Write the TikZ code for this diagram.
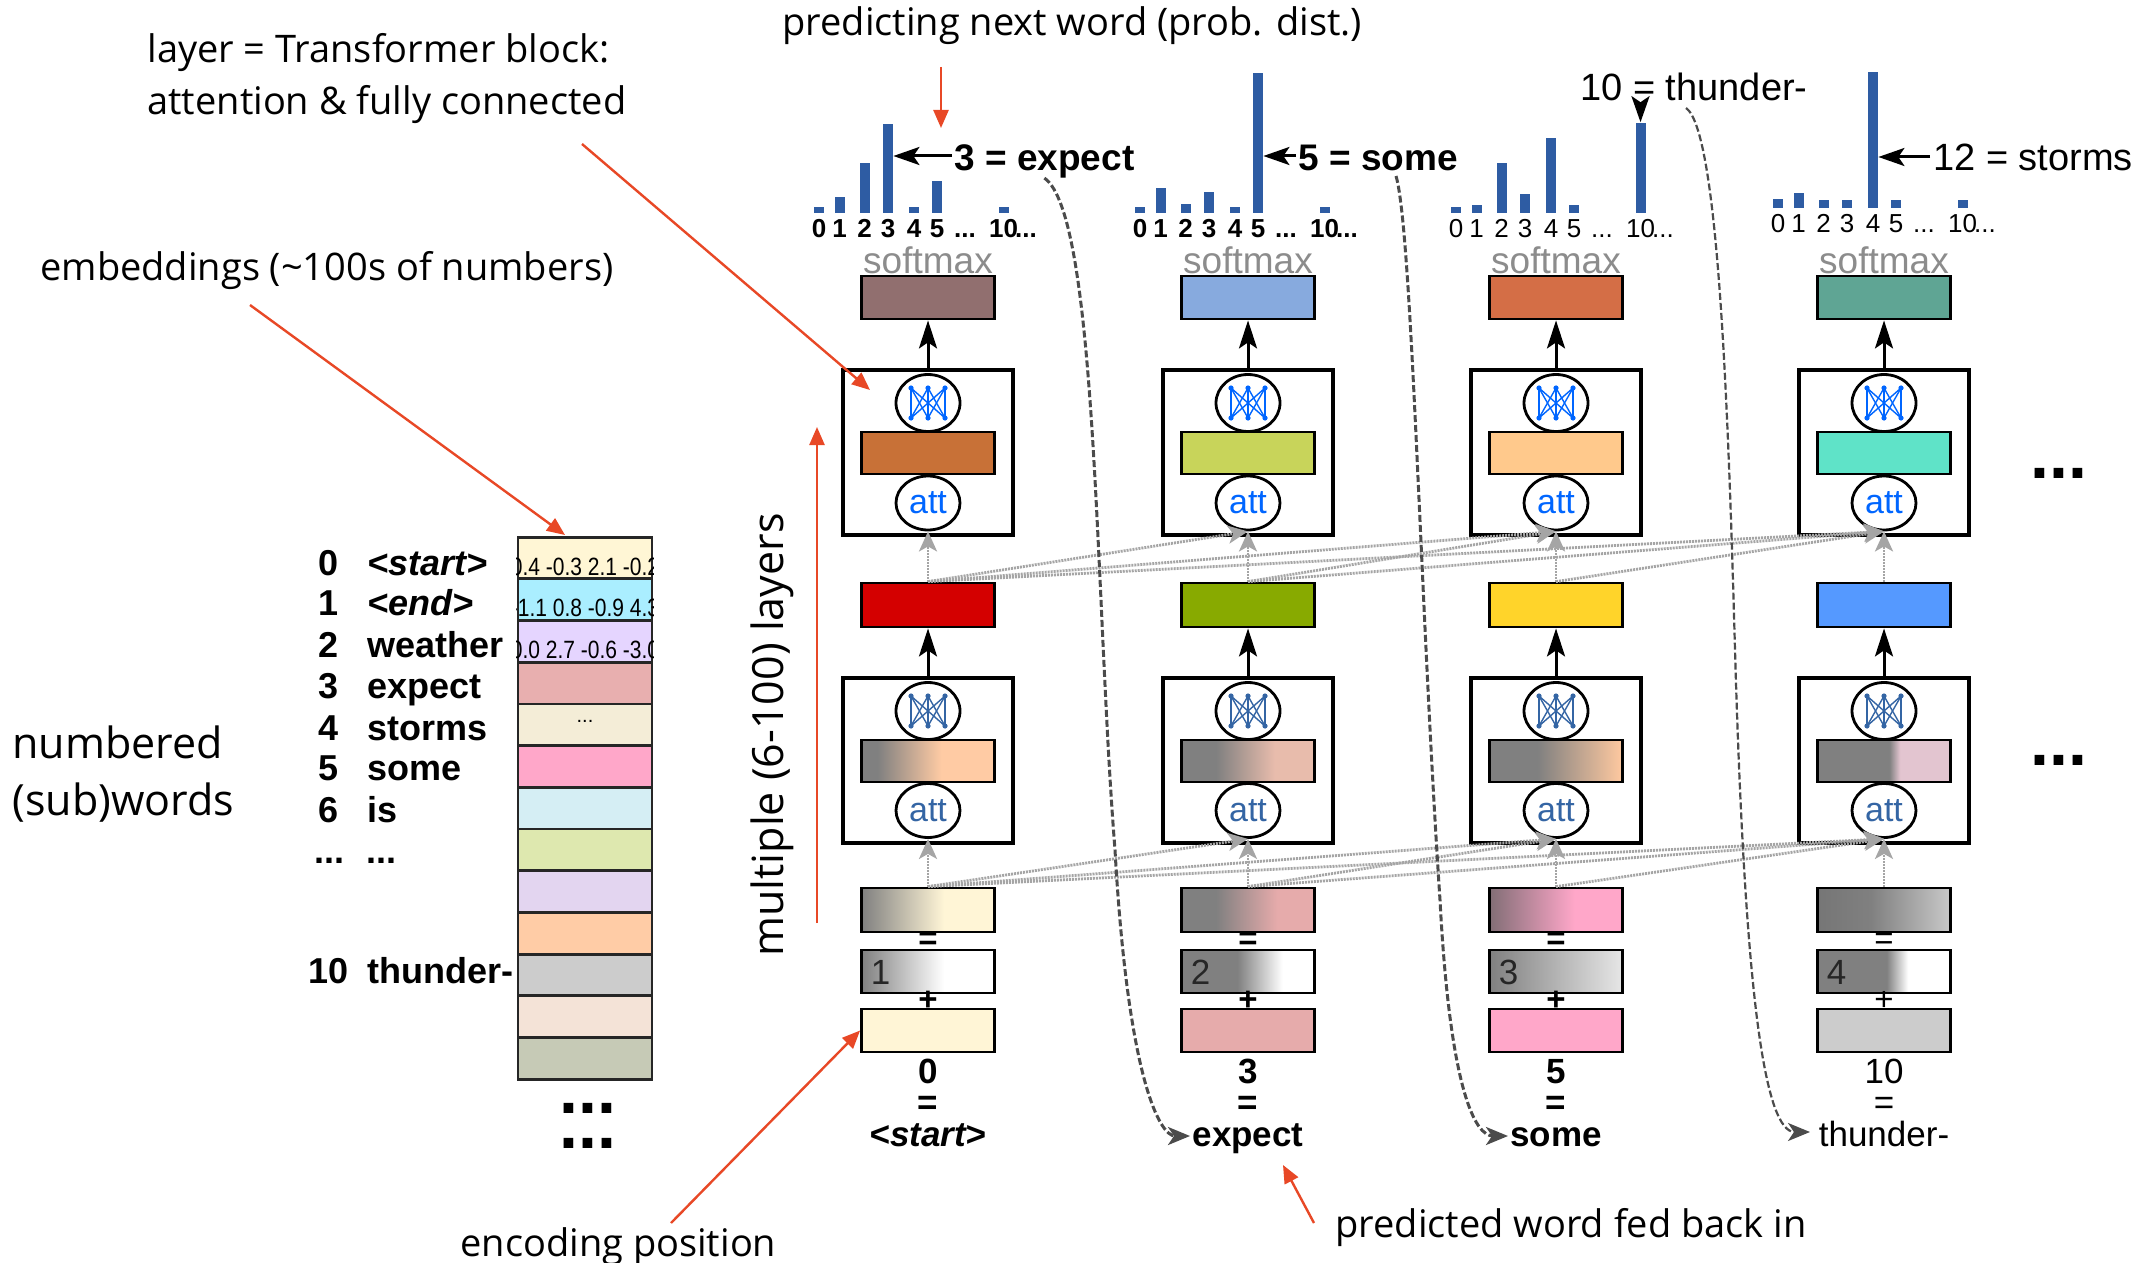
\documentclass[tikz,border=0pt]{standalone}
\usepackage{fontspec}
\setmainfont{Liberation Sans}
\newfontfamily\annfont{Open Sans}
\newfontfamily\narrowfont[FakeStretch=0.84]{Liberation Sans}
\usetikzlibrary{arrows.meta,shapes.geometric,calc}

\definecolor{annred}{RGB}{232,72,38}
\definecolor{barblue}{RGB}{46,92,163}
\definecolor{smgray}{RGB}{140,140,140}
\definecolor{attU}{RGB}{0,102,255}
\definecolor{attL}{RGB}{52,101,164}
\definecolor{attline}{RGB}{165,165,165}
\definecolor{fbgray}{RGB}{75,75,75}
\definecolor{gr}{RGB}{128,128,128}
\definecolor{grd}{RGB}{118,118,118}
\definecolor{smA}{HTML}{916F6F}
\definecolor{smB}{HTML}{87AADE}
\definecolor{smC}{HTML}{D46E46}
\definecolor{smD}{HTML}{5FA594}
\definecolor{ubA}{HTML}{C87137}
\definecolor{ubB}{HTML}{C8D45A}
\definecolor{ubC}{HTML}{FFC98C}
\definecolor{ubD}{HTML}{5FE3C8}
\definecolor{ouA}{HTML}{D40000}
\definecolor{ouB}{HTML}{88AA00}
\definecolor{ouC}{HTML}{FFD42A}
\definecolor{ouD}{HTML}{5599FF}
\definecolor{tkA}{HTML}{FFF5D6}
\definecolor{tkB}{HTML}{E6ABAB}
\definecolor{tkC}{HTML}{FFA7C9}
\definecolor{tkD}{HTML}{CCCCCC}
\definecolor{lbA}{HTML}{FFCBA4}
\definecolor{lbB}{HTML}{E8BCAC}
\definecolor{lbC}{HTML}{FFC9A0}
\definecolor{lbD}{HTML}{E3C5D0}
\definecolor{posC}{HTML}{E6E6E6}
\definecolor{sumCl}{RGB}{130,110,118}
\definecolor{sumD}{HTML}{C8C8C8}
% table rows
\definecolor{tr0}{HTML}{FFF6D5}
\definecolor{tr1}{HTML}{AAEEFF}
\definecolor{tr2}{HTML}{E5D5FF}
\definecolor{tr3}{HTML}{E8AFAF}
\definecolor{tr4}{HTML}{F4EDD7}
\definecolor{tr5}{HTML}{FFA7C9}
\definecolor{tr6}{HTML}{D5EEF4}
\definecolor{tr7}{HTML}{DEE8AF}
\definecolor{tr8}{HTML}{E3D5F0}
\definecolor{tr9}{HTML}{FFCCA6}
\definecolor{tr10}{HTML}{CCCCCC}
\definecolor{tr11}{HTML}{F4E3D7}
\definecolor{tr12}{HTML}{C6CAB6}

\pgfdeclarehorizontalshading{shLA}{100bp}{color(0bp)=(gr); color(31bp)=(gr); color(55bp)=(lbA); color(100bp)=(lbA)}
\pgfdeclarehorizontalshading{shLB}{100bp}{color(0bp)=(gr); color(38bp)=(gr); color(60bp)=(lbB); color(100bp)=(lbB)}
\pgfdeclarehorizontalshading{shLC}{100bp}{color(0bp)=(gr); color(43bp)=(gr); color(75bp)=(lbC); color(100bp)=(lbC)}
\pgfdeclarehorizontalshading{shLD}{100bp}{color(0bp)=(gr); color(52bp)=(gr); color(56bp)=(lbD); color(100bp)=(lbD)}
\pgfdeclarehorizontalshading{shSA}{100bp}{color(0bp)=(gr); color(25bp)=(gr); color(56bp)=(tkA); color(100bp)=(tkA)}
\pgfdeclarehorizontalshading{shSB}{100bp}{color(0bp)=(gr); color(38bp)=(gr); color(61bp)=(tkB); color(100bp)=(tkB)}
\pgfdeclarehorizontalshading{shSC}{100bp}{color(0bp)=(sumCl); color(25bp)=(sumCl); color(57bp)=(tkC); color(100bp)=(tkC)}
\pgfdeclarehorizontalshading{shSD}{100bp}{color(0bp)=(grd); color(25bp)=(grd); color(45bp)=(gr); color(75bp)=(sumD); color(100bp)=(sumD)}
\pgfdeclarehorizontalshading{shPA}{100bp}{color(0bp)=(gr); color(25bp)=(gr); color(56bp)=(white); color(100bp)=(white)}
\pgfdeclarehorizontalshading{shPB}{100bp}{color(0bp)=(gr); color(46bp)=(gr); color(63bp)=(white); color(100bp)=(white)}
\pgfdeclarehorizontalshading{shPC}{100bp}{color(0bp)=(gr); color(25bp)=(gr); color(75bp)=(posC); color(100bp)=(posC)}
\pgfdeclarehorizontalshading{shPD}{100bp}{color(0bp)=(gr); color(51bp)=(gr); color(59bp)=(white); color(100bp)=(white)}

\newcommand\mydots{...}
\newcommand\tightls{\lineskiplimit-100pt\relax}

\tikzset{
  cbox/.style={draw=black, line width=1.4pt, minimum width=66.5pt, minimum height=21.5pt, inner sep=0pt},
  tblock/.style={draw=black, line width=2pt, minimum width=85pt, minimum height=82.5pt, inner sep=0pt, fill=white},
  ell/.style={ellipse, draw=black, line width=1.4pt, fill=white, minimum width=32pt, minimum height=28.5pt, inner sep=0pt, font=\fontsize{17pt}{17pt}\selectfont},
  smtext/.style={text=smgray, font=\fontsize{18.5pt}{18.5pt}\selectfont, inner sep=0pt, anchor=base},
  bar/.style={fill=barblue, minimum width=5pt, inner sep=0pt, anchor=south},
  axl/.style={inner sep=0pt, anchor=base},
  lbl/.style={inner sep=0pt, anchor=base west},
  lblarr/.style={draw=black, line width=1.5pt, -{Stealth[length=13pt,width=9pt,inset=3pt]}},
  blk/.style={draw=black, line width=1.5pt, -{Stealth[length=14pt,width=9pt,inset=3pt]}},
  attn/.style={draw=attline, line width=1.4pt, dash pattern=on 1pt off 0.5pt, -{Stealth[length=10pt,width=9pt,inset=2.5pt]}},
  fb/.style={draw=fbgray, line width=1.5pt, dash pattern=on 3.5pt off 1.5pt, -{Stealth[length=11pt,width=9pt,inset=3pt]}},
  redarr/.style={draw=annred, line width=1.2pt, -{Triangle[length=9pt,width=7.5pt]}},
  ann/.style={font=\annfont\fontsize{19pt}{19pt}\selectfont, inner sep=0pt, anchor=base west},
  annL/.style={font=\annfont\fontsize{21.5pt}{21.5pt}\selectfont, inner sep=0pt, anchor=base west},
  wl/.style={font=\bfseries\fontsize{18pt}{18pt}\selectfont, inner sep=0pt},
  trow/.style={draw=black!85, line width=1.4pt, minimum width=67pt, minimum height=20.85pt, inner sep=0pt},
  tnum/.style={font=\narrowfont\fontsize{12.5pt}{12.5pt}\selectfont, inner sep=0pt, anchor=base},
  bigdots/.style={font=\bfseries\fontsize{34pt}{34pt}\selectfont, inner sep=0pt, anchor=base},
  sign/.style={font=#1\fontsize{16.5pt}{16.5pt}\selectfont, inner sep=0pt},
  stacklbl/.style={align=center, inner sep=0pt, anchor=base,
    font=#1\fontsize{17.5pt}{15.75pt}\selectfont\tightls},
  fcicon/.pic={
    \foreach \ta in {-17,0,17}{\foreach \tb in {-17,0,17}{\draw (\ta,-15) -- (\tb,15);}}
    \foreach \ta in {-17,0,17}{\fill (\ta,-15) circle (1.3pt); \fill (\ta,15) circle (1.3pt);}
  }
}

\newcommand\barcol[4]{%
  \foreach \hh/\of [count=\nn from 0] in {#4}{%
    \node[bar, minimum height=\hh*0.5pt] (b#1\nn) at (#2+\of,#3) {};
  }%
}
\newcommand\axcol[4]{%
  \foreach \tx/\of [count=\nn] in {0/0,1/20.5,2/45.5,3/69,4/95,5/118,\mydots/146,10/184.5,\mydots/207}{%
    \node[axl, font=#4\fontsize{13pt}{13pt}\selectfont] (ax#1x\nn) at (#2+\of,#3) {\tx};
  }%
}

\begin{document}
\begin{tikzpicture}[x=0.5pt,y=-0.5pt]
\useasboundingbox (0,0) rectangle (2143,1263);
\fill[white] (0,0) rectangle (2143,1263);

% ---------- annotations ----------
\node[ann] (annA) at (147,63) {layer = Transformer block:};
\node[ann] (annB) at (147,115) {attention \& fully connected};
\node[ann] (annC) at (782,36) {predicting next word (prob. dist.)};
\node[ann] (annD) at (40,280) {embeddings (\textasciitilde100s of numbers)};
\node[annL] (annE) at (12,758) {numbered};
\node[annL] (annF) at (12,815) {(sub)words};
\node[annL, rotate=90] (annG) at (783,957) {multiple (6-100) layers};
\node[ann] (annH) at (460,1256) {encoding position};
\node[ann] (annI) at (1335,1237) {predicted word fed back in};

% ---------- embedding table ----------
\foreach \rr in {0,...,12}{
  \node[trow, fill=tr\rr] (row\rr) at (585,{558+41.7*\rr}) {};
}
\foreach \rr/\vals in {0/{0.4 -0.3 2.1 -0.2},1/{-1.1 0.8 -0.9 4.3},2/{0.0 2.7 -0.6 -3.0}}{
  \begin{scope}
    \clip (row\rr.north west) rectangle (row\rr.south east);
    \node[tnum] (rn\rr) at ($(row\rr.south)+(0,-5)$) {\vals};
  \end{scope}
}
\node[font=\fontsize{10pt}{10pt}\selectfont, inner sep=0pt, anchor=base] (rdots) at (585,722) {...};
\node[align=center, inner sep=0pt, anchor=base, font=\bfseries\fontsize{34pt}{17.5pt}\selectfont\tightls] (tdots) at (588,1148) {...\\...};

% word list
\foreach \nv/\wv/\yb [count=\rr from 0] in {0/{\itshape <start>}/575, 1/{\itshape <end>}/615, 2/weather/657, 3/expect/698, 4/storms/740, 5/some/780, 6/is/822, 10/thunder-/983}{
  \node[wl, anchor=base] (wn\rr) at (329,\yb) {\nv};
  \node[wl, anchor=base west] (ww\rr) at (367,\yb) {\wv};
}
\node[wl, anchor=base] (wdA) at (329,863) {...};
\node[wl, anchor=base west] (wdB) at (366,863) {...};

% ---------- columns ----------
\foreach \cl/\cx [count=\cc] in {A/928,B/1248,C/1556,D/1884}{
  \node[cbox, fill=sm\cl] (sm\cc) at (\cx,297.5) {};
  \node[smtext] (smt\cc) at (\cx,273) {softmax};
  \node[tblock] (ub\cc) at (\cx,452.5) {};
  \node[cbox, fill=ub\cl, minimum height=21pt] (ubar\cc) at (\cx,453) {};
  \node[ell] (ufc\cc) at (\cx,403) {};
  \pic[draw=attU, fill=attU, line width=0.7pt] at (ufc\cc) {fcicon};
  \node[ell, minimum height=27pt, text=attU] (uatt\cc) at (\cx,503) {att};
  \node[cbox, fill=ou\cl, minimum height=22pt] (out\cc) at (\cx,605) {};
  \node[tblock] (lb\cc) at (\cx,760.5) {};
  \node[cbox, shading=shL\cl, minimum height=21pt] (lbar\cc) at (\cx,761) {};
  \node[ell] (lfc\cc) at (\cx,711) {};
  \pic[draw=attL, fill=attL, line width=0.7pt] at (lfc\cc) {fcicon};
  \node[ell, minimum height=27pt, text=attL] (latt\cc) at (\cx,810.5) {att};
  \node[cbox, shading=shS\cl, minimum height=22pt] (sum\cc) at (\cx,910) {};
  \node[cbox, shading=shP\cl] (pos\cc) at (\cx,971.5) {};
  \node[cbox, fill=tk\cl] (tok\cc) at (\cx,1030.5) {};
  \node[font=\fontsize{17.5pt}{17.5pt}\selectfont, inner sep=0pt, anchor=base west, text=black!85] (pn\cc) at (\cx-57.5,984) {\cc};
  \draw[blk] (lb\cc.north) -- (out\cc.south);
  \draw[blk] (ub\cc.north) -- (sm\cc.south);
}

% signs in the stacks
\foreach \cx/\cc/\wt in {928/1/\bfseries,1248/2/\bfseries,1556/3/\bfseries,1884/4/\mdseries}{
  \node[sign=\wt] (eqs\cc) at (\cx,941) {=};
  \node[sign=\wt] (pls\cc) at (\cx,1001) {+};
}
% bottom labels: token id = word
\node[stacklbl=\bfseries] (wd1) at (928,1146) {0\\=\\\itshape <start>};
\node[stacklbl=\bfseries] (wd2) at (1248,1146) {3\\=\\expect};
\node[stacklbl=\bfseries] (wd3) at (1556,1146) {5\\=\\some};
\node[stacklbl=\mdseries] (wd4) at (1884,1146) {10\\=\\thunder-};
\coordinate (wt2) at (1190,1136);
\coordinate (wt3) at (1508,1136);
\coordinate (wt4) at (1810,1132);

% right-hand dots
\node[bigdots] (rdA) at (2059,478) {...};
\node[bigdots] (rdB) at (2059,765) {...};

% ---------- bar charts ----------
\barcol{1}{819}{213}{6/0,16/20.5,50/45.5,89/69,6/95,32/118,6/184.5}
\barcol{2}{1140}{213}{6/0,25/20.5,9/45.5,21/69,6/95,140/118,6/184.5}
\barcol{3}{1456}{213}{6/0,8/20.5,50/45.5,19/69,75/95,8/118,90/184.5}
\barcol{4}{1778}{208}{9/0,15/20.5,8/45.5,8/69,136/95,8/118,8/184.5}
\axcol{1}{819}{237}{\bfseries}
\axcol{2}{1140}{237}{\bfseries}
\axcol{3}{1456}{237}{\mdseries}
\axcol{4}{1778}{232}{\mdseries}

% prediction labels
\node[lbl, font=\bfseries\fontsize{18.5pt}{18.5pt}\selectfont] (lab1) at (954,170) {3 = expect};
\node[lbl, font=\bfseries\fontsize{18.5pt}{18.5pt}\selectfont] (lab2) at (1298,170) {5 = some};
\node[lbl, font=\fontsize{19pt}{19pt}\selectfont] (lab3) at (1580,101) {10 = thunder-};
\node[lbl, font=\fontsize{19pt}{19pt}\selectfont] (lab4) at (1933,170) {12 = storms};
\coordinate (la1) at (952,156);
\coordinate (la2) at (1296,156);
\coordinate (la3) at (1640.5,104);
\coordinate (la4) at (1930,157);
\draw[lblarr] (la1) -- (la1 -| b13.east);
\draw[lblarr] (la2) -- (la2 -| b25.east);
\draw[lblarr] (la3) -- (b36.north);
\draw[lblarr] (la4) -- (la4 -| b44.east);

% ---------- attention connectors ----------
\foreach \ca in {1,2,3,4}{
  \foreach \cb in {\ca,...,4}{
    \draw[attn] (out\ca.north) -- (uatt\cb.south);
    \draw[attn] (sum\ca.north) -- (latt\cb.south);
  }
}

% ---------- feedback curves ----------
\coordinate (fb2s) at (1396,176);
\coordinate (fb3s) at (1686,108);
\draw[fb] (lab1.south) .. controls (1098,215) and (1095,600) .. (1115,850) .. controls (1128,1080) and (1160,1136) .. (wt2);
\draw[fb] (fb2s) .. controls (1412,230) and (1420,600) .. (1440,900) .. controls (1450,1090) and (1475,1136) .. (wt3);
\draw[fb, line width=1.1pt] (fb3s) .. controls (1718,130) and (1728,400) .. (1735,650) .. controls (1745,1000) and (1765,1132) .. (wt4);

% ---------- red annotation arrows ----------
\coordinate (r1s) at (582,144);  \coordinate (r1e) at (870,390);
\coordinate (r2s) at (250,305);  \coordinate (r2e) at (565,535);
\coordinate (r3s) at (941,67);   \coordinate (r3e) at (941,128);
\coordinate (r4s) at (817,923);  \coordinate (r4e) at (817,427);
\coordinate (r5s) at (671,1223);
\coordinate (r6s) at (1314,1223); \coordinate (r6e) at (1283,1165);
\draw[redarr] (r1s) -- (r1e);
\draw[redarr] (r2s) -- (r2e);
\draw[redarr] (r3s) -- (r3e);
\draw[redarr] (r4s) -- (r4e);
\draw[redarr] (r5s) -- (tok1.west);
\draw[redarr] (r6s) -- (r6e);
\end{tikzpicture}
\end{document}
